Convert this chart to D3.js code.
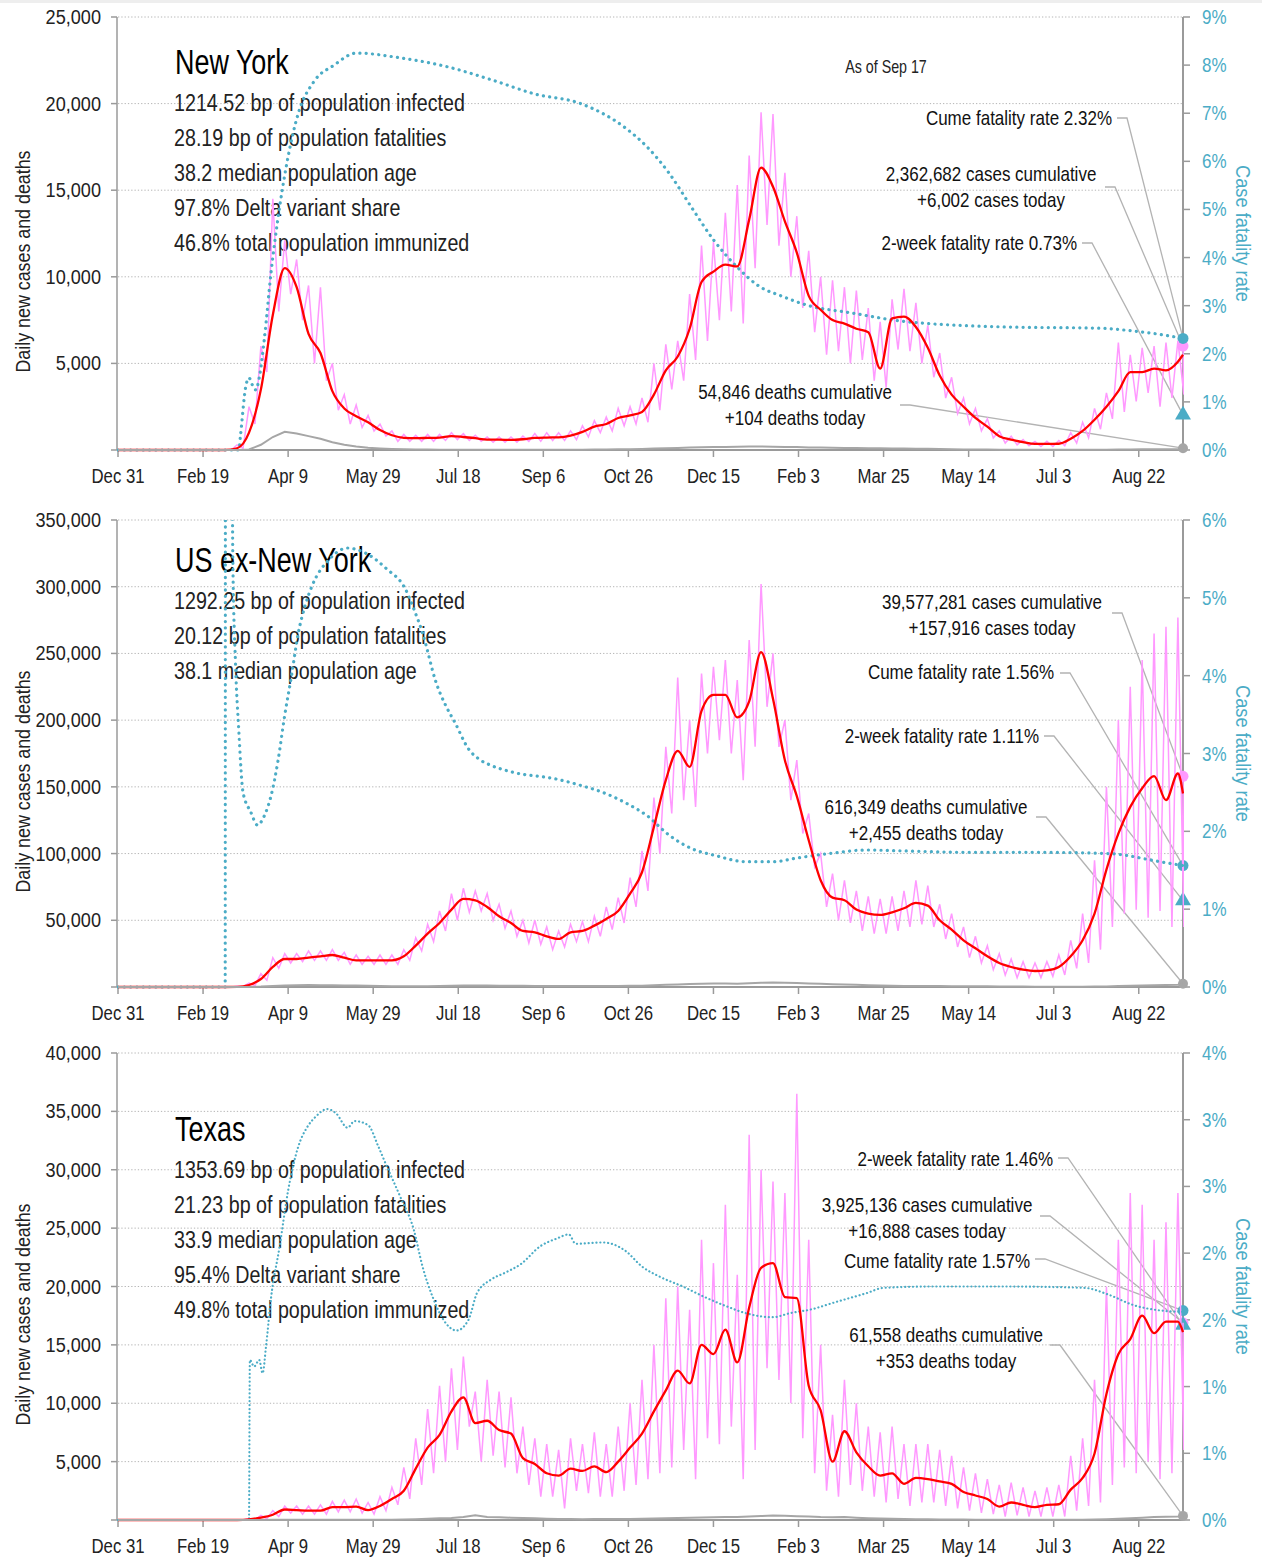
<!DOCTYPE html>
<html><head><meta charset="utf-8">
<script src="https://cdn.jsdelivr.net/npm/d3@7"></script>
<style>
body{margin:0;background:#fff;}
svg{display:block;}
text{font-family:"Liberation Sans",Arial,sans-serif;}
</style></head><body>
<svg id="c" width="1262" height="1562"></svg>
<script>
// ---------- shared categories ----------
const dataStart = "2019-12-31", dataEnd = "2021-09-17";
const tickDates = ["2019-12-31","2020-02-19","2020-04-09","2020-05-29","2020-07-18","2020-09-06","2020-10-26","2020-12-15","2021-02-03","2021-03-25","2021-05-14","2021-07-03","2021-08-22"];

// ---------- New York (weekly samples from Dec 31 2019, cases in thousands) ----------
const nyAvg = [0,0,0,0,0,0,0,0,0,0,
 0.1,1.0,3.5,7.8,10.5,9.4,6.7,5.6,3.4,2.4,
 1.95,1.6,1.15,0.85,0.7,0.68,0.7,0.72,0.8,0.75,
 0.68,0.6,0.6,0.58,0.62,0.7,0.72,0.73,0.83,1.05,
 1.35,1.5,1.85,2.0,2.2,3.2,4.6,5.4,7.0,9.7,
 10.3,10.7,10.6,13.3,16.3,15.2,13.2,11.4,8.9,8.1,
 7.5,7.3,7.0,6.8,4.7,7.6,7.7,7.1,5.9,4.3,
 3.2,2.5,1.85,1.35,0.8,0.6,0.45,0.35,0.35,0.36,
 0.65,1.1,1.75,2.5,3.4,4.5,4.5,4.7,4.6,5.1,
 5.5];
const nyHi = [0,0,0,0,0,0,0,0,0,0,
 0.3,2.5,6.0,14.5,12.1,11.0,9.5,9.4,5.0,3.2,
 2.6,2.0,1.5,1.1,0.9,0.85,0.9,0.9,1.0,0.95,
 0.85,0.75,0.75,0.75,0.8,0.95,1.0,1.0,1.1,1.4,
 1.7,1.9,2.4,2.5,3.0,5.0,6.1,6.3,9.0,11.8,
 12.0,13.7,15.3,17.0,19.5,19.4,16.0,13.5,11.5,10.0,
 9.8,9.4,9.2,8.2,7.4,8.7,9.3,8.5,7.2,5.6,
 4.2,3.0,2.4,1.8,1.1,0.8,0.6,0.5,0.5,0.55,
 1.0,1.6,2.4,3.3,6.2,5.5,5.9,6.0,6.2,6.3];
const nyLo = [0,0,0,0,0,0,0,0,0,0,
 0.1,1.5,4.5,8.0,9.0,7.5,5.0,4.0,2.3,1.5,
 1.3,1.1,0.8,0.5,0.5,0.5,0.5,0.55,0.6,0.55,
 0.5,0.45,0.45,0.45,0.5,0.5,0.55,0.55,0.6,0.75,
 1.0,1.1,1.4,1.5,1.6,2.3,3.5,4.0,5.2,6.3,
 7.5,8.0,7.3,10.5,13.0,11.8,10.0,8.2,6.8,5.5,
 5.7,5.0,5.2,4.0,3.6,5.8,5.7,5.0,4.2,3.0,
 2.1,1.5,1.1,0.7,0.4,0.3,0.25,0.2,0.2,0.25,
 0.4,0.7,1.2,1.8,2.2,2.8,3.3,2.5,3.0,3.2];
const nyDeaths = [0,0,0,0,0,0,0,0,0,0,
 0,30,300,750,1050,950,800,650,450,300,
 200,130,90,60,45,35,25,20,18,15,
 12,12,12,12,12,12,14,15,18,20,
 25,30,40,50,60,80,100,120,140,160,
 170,180,190,200,200,190,180,170,150,140,
 130,120,110,100,95,90,85,75,65,55,
 45,35,28,22,18,14,12,10,8,8,
 8,10,14,20,28,34,38,40,42,45,
 104];
const nyCfrDays = [0,71,72,75,77,79,81,83,86,90,95,100,106,115,127,140,166,193,219,245,272,298,311,324,337,350,364,377,390,406,431,460,489,519,578,595,607,626];
const nyCfr =     [0,0,0.3,1.3,1.5,1.35,1.25,1.5,2.3,3.7,5.05,6.1,7.0,7.65,8.0,8.25,8.15,7.97,7.7,7.4,7.2,6.7,6.3,5.75,5.05,4.37,3.8,3.4,3.2,3.0,2.85,2.68,2.6,2.56,2.53,2.48,2.43,2.32];
const nyStats = ["1214.52 bp of population infected","28.19 bp of population fatalities","38.2 median population age","97.8% Delta variant share","46.8% total population immunized"];
const nyLast = {cume:2.32, twoWeek:0.73, casesCum:2362682, casesToday:6002, deathsCum:54846, deathsToday:104};

// ---------- US ex-New York ----------
const usAvg = [0,0,0,0,0,0,0,0,0,0,
 0.1,1.5,6,15,21,21,22,23,24,22,
 20,20,20,20,23,31,40,48,58,66,
 65,60,53,48,42,41,38,36,41,42,
 46,51,57,70,86,120,155,177,165,207,
 219,219,202,214,251,216,170,143,110,80,
 67,65,58,55,54,56,59,63,61,50,
 43,35,29,23,18,15,13,12,12.5,15,
 23,35,55,88,115,135,149,158,140,160,
 145];
const usHi = [0,0,0,0,0,0,0,0,0,0,
 0.5,3,10,22,25,25,27,27,28,26,
 24,23,24,24,28,37,47,57,70,74,
 72,70,62,57,50,50,45,42,47,49,
 53,60,67,82,102,142,180,232,200,235,
 240,245,230,260,302,250,200,170,130,100,
 85,80,72,68,66,68,72,80,76,62,
 55,45,38,31,25,21,19,18,19,24,
 35,55,95,150,200,225,245,265,270,277];
const usLo = [0,0,0,0,0,0,0,0,0,0,
 0.2,1,5,14,18,19,20,20,20,17,
 17,17,17,17,20,27,34,42,50,56,
 57,50,44,38,33,32,28,30,34,34,
 38,43,48,60,72,100,130,140,135,175,
 185,175,155,180,210,180,140,115,90,60,
 50,48,42,40,40,42,45,47,45,36,
 30,22,18,13,9,7,7,7,8,9,
 14,18,28,45,55,58,52,57,45,45];
const usDeaths = [0,0,0,0,0,0,0,0,0,0,
 0,50,300,800,1200,1400,1500,1400,1300,1200,
 1050,950,800,650,600,550,550,700,900,1050,
 1100,1050,1000,950,850,800,750,700,700,720,
 750,780,820,900,1000,1300,1600,1900,2200,2450,
 2600,2600,2500,2800,3200,3300,3200,3000,2700,2400,
 2100,1800,1600,1300,1100,950,800,750,700,680,
 650,600,550,500,420,350,300,260,240,230,
 240,280,350,450,700,900,1100,1300,1500,1700,
 2455];
const usCfrDays = [0,63,63.2,66.5,67.5,69,71,73.5,78,82,86,90,94,98,102,106,110,114,124,135,145,158,169,174,179,187,193,198,206,212,219,232,258,272,285,298,311,324,337,351,369,385,400,420,440,460,500,540,575,590,605,615,626];
const usCfr =     [0,0,9,9,5.5,4.2,3.3,2.5,2.25,2.08,2.2,2.46,2.9,3.49,4.0,4.55,4.9,5.15,5.49,5.64,5.58,5.37,5.11,4.85,4.55,3.91,3.6,3.4,3.06,2.93,2.85,2.76,2.67,2.59,2.5,2.37,2.2,1.95,1.78,1.69,1.61,1.61,1.66,1.72,1.76,1.75,1.73,1.73,1.72,1.7,1.64,1.6,1.56];
const usStats = ["1292.25 bp of population infected","20.12 bp of population fatalities","38.1 median population age"];
const usLast = {cume:1.56, twoWeek:1.11, casesCum:39577281, casesToday:157916, deathsCum:616349, deathsToday:2455};

// ---------- Texas ----------
const txAvg = [0,0,0,0,0,0,0,0,0,0,
 0,0.05,0.2,0.45,0.9,0.85,0.8,0.8,1.1,1.1,
 1.15,0.85,1.2,1.8,2.5,4.4,6.2,7.3,9.3,10.5,
 8.3,8.5,7.7,7.4,5.3,4.8,4.0,3.8,4.4,4.2,
 4.6,4.1,5.0,6.2,7.4,9.3,11.1,12.8,11.7,15.0,
 14.2,16.3,13.5,18.2,21.6,22.0,19.1,19.0,11.5,9.4,
 5.0,7.6,5.8,4.6,3.8,4.0,3.1,3.6,3.5,3.3,
 3.1,2.4,2.1,1.8,1.15,1.5,1.3,1.1,1.3,1.35,
 2.6,3.6,5.7,10.8,14.2,15.5,17.5,16.0,17.0,17.0,
 16.1];
const txHi = [0,0,0,0,0,0,0,0,0,0,
 0,0.1,0.4,0.8,1.2,1.2,1.2,1.3,1.6,1.7,
 1.8,1.5,2.0,2.8,4.5,7.0,9.5,11.5,13.0,14.0,
 11.0,12.0,11.0,10.5,8.0,7.0,6.5,6.0,7.0,6.5,
 7.5,6.5,8.0,10.0,12.0,15.0,19.0,20.0,18.0,24.0,
 22.0,27.0,21.0,33.0,30.0,29.0,28.0,36.5,24.0,15.0,
 9.0,12.0,10.0,8.0,7.5,8.0,6.5,6.5,6.5,6.0,
 5.5,4.5,4.0,3.5,3.0,3.2,2.8,2.5,2.8,3.0,
 5.5,7.0,12.0,20.0,24.0,28.0,27.0,24.0,25.5,28.0];
const txLo = [0,0,0,0,0,0,0,0,0,0,
 0,0.02,0.1,0.3,0.6,0.5,0.5,0.5,0.7,0.7,
 0.6,0.5,0.8,1.3,1.8,3.0,4.0,5.0,6.0,8.0,
 5.0,5.5,4.5,4.0,3.0,2.0,2.0,1.0,2.5,2.3,
 2.0,2.0,2.5,3.0,3.5,4.0,4.5,6.0,3.5,7.0,
 6.5,8.0,3.5,6.0,13.0,12.0,10.0,7.0,4.0,2.5,
 2.0,3.0,2.5,2.0,1.5,1.8,1.2,1.5,1.5,1.2,
 1.0,0.8,0.6,0.5,0.3,0.4,0.3,0.3,0.3,0.3,
 0.8,1.2,1.5,3.0,4.5,4.0,5.0,3.5,4.0,6.0];
const txDeaths = [0,0,0,0,0,0,0,0,0,0,
 0,0,5,15,20,25,30,30,25,25,
 20,20,20,30,40,60,100,150,180,250,
 400,250,230,200,170,140,110,90,80,70,
 80,80,80,90,110,130,150,180,200,220,
 230,250,260,300,340,380,360,330,300,250,
 230,250,200,150,120,100,80,70,60,50,
 40,35,30,30,28,25,20,20,20,20,
 20,25,35,60,100,150,200,250,280,300,
 353];
const txCfrDays = [0,77,77.5,80,83,85,87,90,95,100,106,111,116,123,128,135,139,147,153,158,166,174,179,185,193,199,206,211,219,227,237,248,258,265,269,285,298,308,319,332,345,358,369,385,395,408,421,440,450,480,519,568,582,597,613,626];
const txCfr =     [0,0,1.2,1.15,1.2,1.1,1.3,1.67,2.05,2.47,2.8,2.94,3.02,3.08,3.05,2.94,2.99,2.96,2.8,2.65,2.42,2.17,1.9,1.67,1.47,1.42,1.5,1.7,1.8,1.85,1.92,2.05,2.11,2.14,2.07,2.08,2.02,1.9,1.82,1.75,1.67,1.6,1.55,1.52,1.55,1.58,1.63,1.7,1.74,1.75,1.75,1.74,1.69,1.61,1.57,1.56];
const txStats = ["1353.69 bp of population infected","21.23 bp of population fatalities","33.9 median population age","95.4% Delta variant share","49.8% total population immunized"];
const txLast = {cume:1.57, twoWeek:1.46, casesCum:3925136, casesToday:16888, deathsCum:61558, deathsToday:353};

// ---------- drawing ----------
const TEAL = "#4BACC6", PINK = "#FF99FF", RED = "#FF0000", GRAY = "#A6A6A6", AX = "#9a9a9a";
const svg = d3.select("#c");
svg.append("rect").attr("x",0).attr("y",0).attr("width",1262).attr("height",3).attr("fill","#eeeeee");

// condensed text helper (horizontal squeeze of Liberation Sans)
function T(parent, x, y, str, o) {
  o = Object.assign({size:20, sx:0.82, anchor:"start", fill:"#222", rot:0}, o || {});
  return parent.append("text")
    .attr("transform", `translate(${x},${y})` + (o.rot ? ` rotate(${o.rot})` : "") + ` scale(${o.sx},1)`)
    .attr("text-anchor", o.anchor).attr("font-size", o.size).attr("fill", o.fill).text(str);
}

const parse = d3.utcParse("%Y-%m-%d");
const t0 = parse(dataStart), t1 = parse(dataEnd);
const lastDay = d3.utcDay.count(t0, t1);
const weekDays = d3.range(0, lastDay - 2, 7);
const dayOf = s => d3.utcDay.count(t0, parse(s));
const fmtTick = d3.utcFormat("%b %-d");
const x = d3.scaleLinear().domain([0, lastDay]).range([118, 1183]);
const comma = d3.format(",");

const panels = [
 {title:"New York", stats:nyStats, avg:nyAvg, hi:nyHi, lo:nyLo, deaths:nyDeaths, cfrD:nyCfrDays, cfr:nyCfr, last:nyLast,
  yMax:25000, yStep:5000, rMax:9, rStep:1, top:17, bottom:450, titleY:74, dot:[3.2,6.2], asOf:true,
  ann:[
   {key:"cume", anchor:"end", x:1112, y:125, lx:1117, ly:118},
   {key:"cases", anchor:"middle", x:991, y:181, lx:1105, ly:187},
   {key:"twoWeek", anchor:"end", x:1077, y:250, lx:1082, ly:243},
   {key:"deaths", anchor:"middle", x:795, y:399, lx:900, ly:405}]},
 {title:"US ex-New York", stats:usStats, avg:usAvg, hi:usHi, lo:usLo, deaths:usDeaths, cfrD:usCfrDays, cfr:usCfr, last:usLast,
  yMax:350000, yStep:50000, rMax:6, rStep:1, top:520, bottom:987, titleY:572, dot:[3.2,6.2],
  ann:[
   {key:"cases", anchor:"middle", x:992, y:609, lx:1112, ly:613},
   {key:"cume", anchor:"end", x:1054, y:679, lx:1060, ly:673},
   {key:"twoWeek", anchor:"end", x:1039, y:743, lx:1044, ly:736},
   {key:"deaths", anchor:"middle", x:926, y:814, lx:1036, ly:817}]},
 {title:"Texas", stats:txStats, avg:txAvg, hi:txHi, lo:txLo, deaths:txDeaths, cfrD:txCfrDays, cfr:txCfr, last:txLast,
  yMax:40000, yStep:5000, rMax:3.5, rStep:0.5, top:1053, bottom:1520, titleY:1141, dot:[2.2,3.8],
  ann:[
   {key:"twoWeek", anchor:"end", x:1053, y:1166, lx:1058, ly:1158},
   {key:"cases", anchor:"middle", x:927, y:1212, lx:1040, ly:1216},
   {key:"cume", anchor:"end", x:1030, y:1268, lx:1035, ly:1259},
   {key:"deaths", anchor:"middle", x:946, y:1342, lx:1050, ly:1345}]}
];

panels.forEach((p, pi) => {
  const y = d3.scaleLinear().domain([0, p.yMax]).range([p.bottom, p.top]);
  const yr = d3.scaleLinear().domain([0, p.rMax]).range([p.bottom, p.top]);
  const g = svg.append("g");
  const yTicks = d3.range(0, p.yMax + 1, p.yStep);
  const rTicks = d3.range(0, p.rMax + 1e-9, p.rStep);

  // gridlines
  g.selectAll(".grid").data(yTicks.filter(v => v > 0)).join("line")
    .attr("x1", 118).attr("x2", 1183).attr("y1", d => y(d)).attr("y2", d => y(d))
    .attr("stroke", "#b5b5b5").attr("stroke-width", 1).attr("stroke-dasharray", "1.3,2");

  // left axis
  g.append("line").attr("x1",117).attr("x2",117).attr("y1",p.top).attr("y2",p.bottom).attr("stroke",AX).attr("stroke-width",1.5);
  g.selectAll(".lt").data(yTicks).join("line").attr("x1",111).attr("x2",117).attr("y1",d=>y(d)).attr("y2",d=>y(d)).attr("stroke",AX).attr("stroke-width",1.5);
  yTicks.filter(v=>v>0).forEach(v => T(g, 101, y(v)+7, comma(v), {size:19.5, sx:0.93, anchor:"end"}));

  // right axis
  g.append("line").attr("x1",1183).attr("x2",1183).attr("y1",p.top).attr("y2",p.bottom).attr("stroke",AX).attr("stroke-width",2);
  g.selectAll(".rt").data(rTicks).join("line").attr("x1",1183).attr("x2",1190).attr("y1",d=>yr(d)).attr("y2",d=>yr(d)).attr("stroke",AX).attr("stroke-width",1.5);
  rTicks.forEach(v => T(g, 1202, yr(v)+7, Math.round(v)+"%", {size:20, sx:0.85, fill:TEAL}));

  // bottom axis
  g.append("line").attr("x1",117).attr("x2",1183).attr("y1",p.bottom).attr("y2",p.bottom).attr("stroke",AX).attr("stroke-width",2.2);
  g.selectAll(".bt").data(tickDates).join("line").attr("x1",d=>x(dayOf(d))).attr("x2",d=>x(dayOf(d))).attr("y1",p.bottom).attr("y2",p.bottom+7).attr("stroke",AX).attr("stroke-width",1.5);
  tickDates.forEach(d => T(g, x(dayOf(d)), p.bottom+33, fmtTick(parse(d)), {size:19.5, sx:0.86, anchor:"middle"}));

  // axis titles
  const mid = (p.top + p.bottom) / 2;
  T(g, 30, mid+28, "Daily new cases and deaths", {size:21, sx:0.85, anchor:"middle", rot:-90});
  T(g, 1236, mid, "Case fatality rate", {size:21, sx:0.87, anchor:"middle", rot:90, fill:TEAL});

  // clip
  const cid = "clip" + pi;
  svg.append("clipPath").attr("id", cid).append("rect").attr("x",117).attr("y",p.top).attr("width",1067).attr("height",p.bottom-p.top+2);
  const plot = svg.append("g").attr("clip-path", `url(#${cid})`);

  // pink daily cases
  const pinkPts = weekDays.flatMap((d,i)=>[[d, p.hi[i]*1000],[d+3.5, p.lo[i]*1000]]).concat([[lastDay, p.last.casesToday]]);
  plot.append("path").datum(pinkPts).attr("fill","none").attr("stroke",PINK).attr("stroke-width",1.5)
    .attr("d", d3.line().x(d=>x(d[0])).y(d=>y(d[1])));

  // teal CFR dotted
  const cfrPts = p.cfrD.map((d,i)=>[d, p.cfr[i]]);
  plot.append("path").datum(cfrPts).attr("fill","none").attr("stroke",TEAL).attr("stroke-width",p.dot[0])
    .attr("stroke-linecap","round").attr("stroke-dasharray",`0.1,${p.dot[1]}`)
    .attr("d", d3.line().x(d=>x(d[0])).y(d=>yr(d[1])).curve(d3.curveMonotoneX));

  // red 7-day average
  const days = weekDays.concat([lastDay]);
  plot.append("path").datum(days.map((d,i)=>[d, p.avg[i]*1000])).attr("fill","none").attr("stroke",RED).attr("stroke-width",2.3)
    .attr("d", d3.line().x(d=>x(d[0])).y(d=>y(d[1])).curve(d3.curveMonotoneX));

  // gray deaths
  plot.append("path").datum(days.map((d,i)=>[d, p.deaths[i]])).attr("fill","none").attr("stroke",GRAY).attr("stroke-width",2)
    .attr("d", d3.line().x(d=>x(d[0])).y(d=>y(d[1])));

  // markers
  const mx = x(lastDay);
  const targets = {
    cume:[mx, yr(p.last.cume)], cases:[mx, y(p.last.casesToday)],
    twoWeek:[mx, yr(p.last.twoWeek)], deaths:[mx, y(p.last.deathsToday)]
  };
  p.ann.forEach(a => {
    const t = targets[a.key];
    g.append("path").attr("fill","none").attr("stroke","#b3b3b3").attr("stroke-width",1.3)
      .attr("d", `M${a.lx},${a.ly}H${a.lx+10}L${t[0]},${t[1]}`);
  });
  g.append("circle").attr("cx",mx).attr("cy",targets.cases[1]).attr("r",5.5).attr("fill",PINK);
  g.append("circle").attr("cx",mx).attr("cy",targets.cume[1]).attr("r",5.5).attr("fill",TEAL);
  g.append("path").attr("transform",`translate(${mx},${targets.twoWeek[1]})`).attr("d",d3.symbol(d3.symbolTriangle,110)()).attr("fill",TEAL);
  g.append("circle").attr("cx",mx).attr("cy",targets.deaths[1]).attr("r",5).attr("fill",GRAY);

  // annotation texts
  const annText = {
    cume: [`Cume fatality rate ${p.last.cume.toFixed(2)}%`],
    twoWeek: [`2-week fatality rate ${p.last.twoWeek.toFixed(2)}%`],
    cases: [`${comma(p.last.casesCum)} cases cumulative`, `+${comma(p.last.casesToday)} cases today`],
    deaths: [`${comma(p.last.deathsCum)} deaths cumulative`, `+${comma(p.last.deathsToday)} deaths today`]
  };
  p.ann.forEach(a => {
    annText[a.key].forEach((s, k) => T(g, a.x, a.y + k*26, s, {size:21, sx:0.81, anchor:a.anchor, fill:"#111"}));
  });

  // title & stats
  T(g, 175, p.titleY, p.title, {size:35, sx:0.77, fill:"#000"});
  p.stats.forEach((s,k) => T(g, 174, p.titleY + 36.5 + k*35, s, {size:24, sx:0.82, fill:"#222"}));
  if (p.asOf) T(g, 886, 73, "As of " + fmtTick(t1), {size:19, sx:0.75, anchor:"middle"});
});
</script>
</body></html>
